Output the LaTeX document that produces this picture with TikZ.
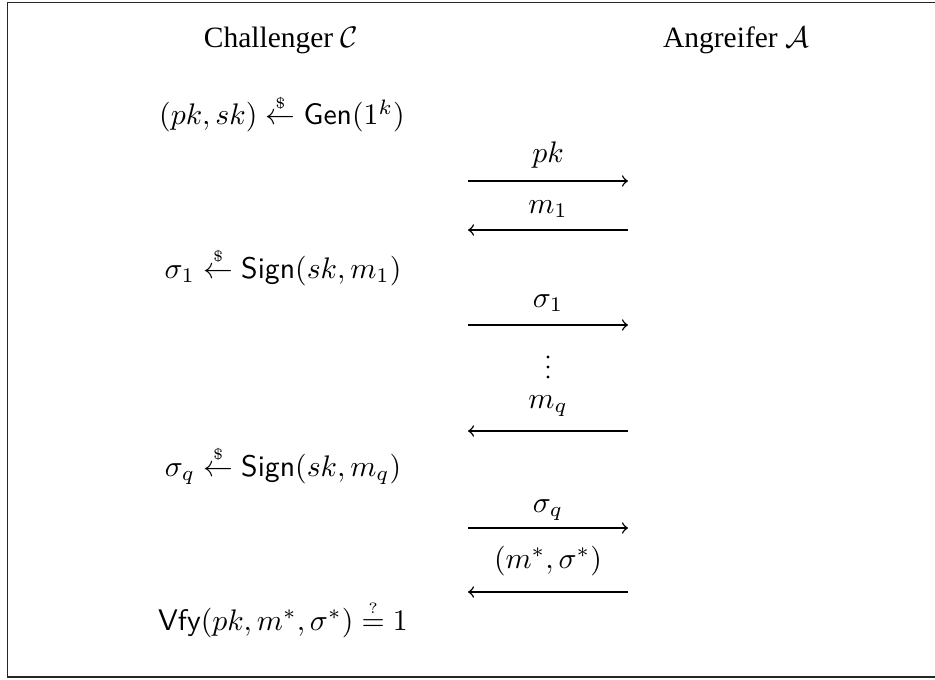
\documentclass[tikz,border=0pt]{standalone}
\usepackage{amsmath}
\usepackage{fontspec}
\newfontfamily\titlefont{Liberation Serif}
\newcommand{\sampleArrow}{\overset{\scriptscriptstyle\$}{\leftarrow}}
\newcommand{\qeq}{\overset{\scriptscriptstyle ?}{=}}
\begin{document}
\begin{tikzpicture}[x=0.336pt,y=-0.336pt,
  title/.style={inner sep=0pt,anchor=base,font=\titlefont\fontsize{9.9}{12}\selectfont},
  comp/.style={inner sep=0pt,anchor=base},
  lbl/.style={inner sep=0pt,anchor=base},
  msg/.style={->,line width=0.5pt},
  frame/.style={line width=0.6pt,draw=black!85}]
\useasboundingbox (0,0) rectangle (935,679);
\draw[frame] (940,2.5) -- (7.5,2.5) -- (7.5,677) -- (940,677);
% titles
\node[title] (tc) at (281,48) {Challenger $\mathcal{C}$};
\node[title] (ta) at (736,48) {Angreifer $\mathcal{A}$};
% challenger computations
\node[comp] (gen) at (282,125) {$(pk,sk)\sampleArrow\mathsf{Gen}(1^k)$};
\node[comp] (s1) at (283,278) {$\sigma_1\sampleArrow\mathsf{Sign}(sk,m_1)$};
\node[comp] (sq) at (283,476) {$\sigma_q\sampleArrow\mathsf{Sign}(sk,m_q)$};
\node[comp] (vfy) at (283,630) {$\mathsf{Vfy}(pk,m^*,\sigma^*)\qeq 1$};
% message endpoints
\coordinate (p1l) at (468,181); \coordinate (p1r) at (628,181);
\coordinate (p2l) at (468,230); \coordinate (p2r) at (628,230);
\coordinate (p3l) at (468,325); \coordinate (p3r) at (628,325);
\coordinate (p4l) at (468,431); \coordinate (p4r) at (628,431);
\coordinate (p5l) at (468,528); \coordinate (p5r) at (628,528);
\coordinate (p6l) at (468,592); \coordinate (p6r) at (628,592);
\draw[msg] (p1l) -- (p1r);
\draw[msg] (p2r) -- (p2l);
\draw[msg] (p3l) -- (p3r);
\draw[msg] (p4r) -- (p4l);
\draw[msg] (p5l) -- (p5r);
\draw[msg] (p6r) -- (p6l);
% labels
\node[lbl] (l1) at (548,162) {$pk$};
\node[lbl] (l2) at (548,213) {$m_1$};
\node[lbl] (l3) at (548,307) {$\sigma_1$};
\node[lbl] (l4) at (548,408) {$m_q$};
\node[lbl] (l5) at (548,512) {$\sigma_q$};
\node[lbl] (l6) at (548,568) {$(m^*,\sigma^*)$};
% vertical dots
\fill (548,357) circle (1.7);
\fill (548,367) circle (1.7);
\fill (548,377) circle (1.7);
\end{tikzpicture}
\end{document}
